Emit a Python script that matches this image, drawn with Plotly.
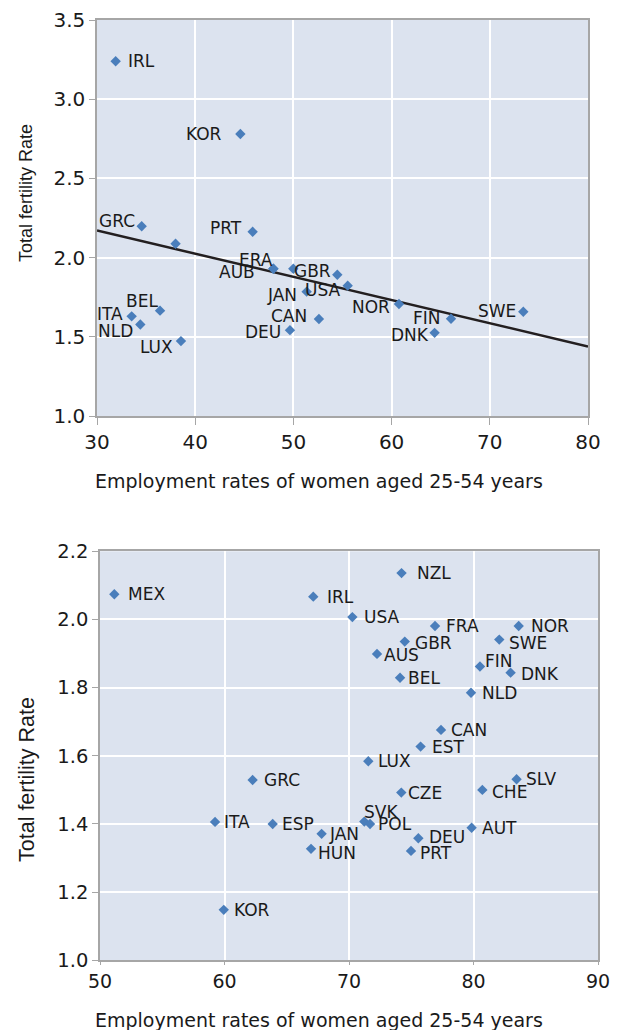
import plotly.graph_objects as go

# ---------------- data: top chart ----------------
top_countries = ["IRL", "KOR", "GRC", "", "PRT", "ERA", "AUB", "", "GBR", "USA", "JAN",
                 "CAN", "DEU", "NOR", "FIN", "DNK", "SWE", "BEL", "ITA", "NLD", "LUX"]
top_employment = [31.9, 44.6, 34.55, 38.0, 45.85, 47.96, 47.96, 49.99, 54.47, 55.53, 51.35,
                  52.6, 49.65, 60.75, 66.05, 64.38, 73.41, 36.42, 33.53, 34.41, 38.55]
top_fertility = [3.24, 2.78, 2.198, 2.087, 2.163, 1.93, 1.93, 1.93, 1.892, 1.823, 1.785,
                 1.612, 1.542, 1.707, 1.614, 1.525, 1.658, 1.665, 1.629, 1.578, 1.473]
trend_x = [30, 80]
trend_y = [2.171, 1.439]

# ---------------- data: bottom chart ----------------
bot_countries = ["MEX", "IRL", "NZL", "USA", "FRA", "NOR", "GBR", "SWE", "AUS", "FIN",
                 "DNK", "BEL", "NLD", "CAN", "EST", "LUX", "SLV", "CHE", "CZE", "SVK",
                 "POL", "AUT", "JAN", "DEU", "HUN", "PRT", "GRC", "ITA", "ESP", "KOR"]
bot_employment = [51.15, 67.13, 74.22, 70.27, 76.91, 83.63, 74.48, 82.07, 72.25, 80.52,
                  82.98, 74.1, 79.8, 77.39, 75.75, 71.55, 83.46, 80.71, 74.2, 71.23,
                  71.69, 79.85, 67.8, 75.57, 66.95, 74.98, 62.26, 59.24, 63.87, 59.94]
bot_fertility = [2.074, 2.067, 2.136, 2.007, 1.981, 1.981, 1.935, 1.941, 1.899, 1.862,
                 1.844, 1.829, 1.785, 1.676, 1.627, 1.584, 1.531, 1.50, 1.492, 1.407,
                 1.40, 1.389, 1.371, 1.358, 1.327, 1.321, 1.529, 1.406, 1.40, 1.148]

x_title = "Employment rates of women aged 25-54 years"
y_title = "Total fertility Rate"

# ---------------- label placement (styling) ----------------
top_anchor = ["left", "right", "right", "right", "right", "right", "right", "right", "right",
              "right", "right", "right", "right", "right", "right", "right", "right", "right",
              "right", "right", "right"]
top_dx = [11, -17, -6, 0, -10, 1, -17, 0, -5, -6, -9, -11, -8, -8, -9, -5, -6, -1, -8, -6, -7]
top_dy = [0, 0, 5, 0, 4, 9, -3, 0, 4, -4, -3, 3, -2, -3, 1, -2, 1, 10, 2, -7, -6]

bot_dx = [13, 13, 14, 11, 10, 11, 9, 9, 6, 4, 9, 7, 10, 9, 10, 9, 8, 9, 6, -1,
          7, 9, 6, 10, 6, 8, 10, 8, 8, 9]
bot_dy = [0, 0, 0, 0, 0, 0, -1, -3, -1, 6, -1, 0, 0, 0, 0, 0, 0, -2, 0, 10,
          0, 0, 0, 1, -4, -2, 0, 0, 0, 0]

MARKER_COLOR = "#4a7ebb"
PLOT_BG = "#dce3ef"
AXIS_LINE = "#a6a6a6"
TEXT_COLOR = "#1a1a1a"
LABEL_FONT = dict(family="DejaVu Sans", size=17, color=TEXT_COLOR)

fig = go.Figure()

fig.add_trace(go.Scatter(
    x=trend_x, y=trend_y, mode="lines", line=dict(color="#231f20", width=2.5),
    xaxis="x", yaxis="y", showlegend=False, hoverinfo="skip"))
fig.add_trace(go.Scatter(
    x=top_employment, y=top_fertility, mode="markers",
    marker=dict(symbol="diamond", size=8, color=MARKER_COLOR),
    xaxis="x", yaxis="y", showlegend=False, text=top_countries))
fig.add_trace(go.Scatter(
    x=bot_employment, y=bot_fertility, mode="markers",
    marker=dict(symbol="diamond", size=8, color=MARKER_COLOR),
    xaxis="x2", yaxis="y2", showlegend=False, text=bot_countries))

annotations = []
for name, xv, yv, anc, dx, dy in zip(top_countries, top_employment, top_fertility,
                                     top_anchor, top_dx, top_dy):
    if not name:
        continue
    annotations.append(dict(x=xv, y=yv, xref="x", yref="y", text=name, showarrow=False,
                            xanchor=anc, yanchor="middle", xshift=dx, yshift=dy,
                            font=LABEL_FONT, borderpad=0))
for name, xv, yv, dx, dy in zip(bot_countries, bot_employment, bot_fertility, bot_dx, bot_dy):
    annotations.append(dict(x=xv, y=yv, xref="x2", yref="y2", text=name, showarrow=False,
                            xanchor="left", yanchor="middle", xshift=dx, yshift=dy,
                            font=LABEL_FONT, borderpad=0))

# axis titles
annotations += [
    dict(x=319 / 619, y=(1030 - 481) / 1030, xref="paper", yref="paper", text=x_title,
         showarrow=False, xanchor="center", yanchor="middle",
         font=dict(family="DejaVu Sans", size=19, color=TEXT_COLOR)),
    dict(x=319 / 619, y=(1030 - 1020) / 1030, xref="paper", yref="paper", text=x_title,
         showarrow=False, xanchor="center", yanchor="middle",
         font=dict(family="DejaVu Sans", size=19, color=TEXT_COLOR)),
    dict(x=26 / 619, y=(1030 - 193) / 1030, xref="paper", yref="paper", text=y_title,
         showarrow=False, xanchor="center", yanchor="middle", textangle=-90,
         font=dict(family="Liberation Sans", size=18, color=TEXT_COLOR)),
    dict(x=27 / 619, y=(1030 - 780) / 1030, xref="paper", yref="paper", text=y_title,
         showarrow=False, xanchor="center", yanchor="middle", textangle=-90,
         font=dict(family="Liberation Sans", size=21.5, color=TEXT_COLOR)),
]

def axis_style(rng, dtick, domain, anchor, fontsize, fmt, ticklen):
    return dict(range=rng, dtick=dtick, domain=domain, anchor=anchor,
                showgrid=True, gridcolor="white", gridwidth=1.5, zeroline=False,
                showline=True, linecolor=AXIS_LINE, linewidth=1.5, mirror=True,
                ticks="outside", ticklen=ticklen, tickcolor=AXIS_LINE, tickwidth=1,
                tickformat=fmt, automargin=False,
                tickfont=dict(family="DejaVu Sans", size=fontsize, color=TEXT_COLOR))

fig.update_layout(
    width=619, height=1030,
    margin=dict(l=0, r=0, t=0, b=0),
    paper_bgcolor="white", plot_bgcolor=PLOT_BG,
    showlegend=False,
    xaxis=axis_style([30, 80], 10, [97 / 619, 588 / 619], "y", 20, "d", 7),
    yaxis=axis_style([1.0, 3.5], 0.5, [(1030 - 416) / 1030, (1030 - 20) / 1030], "x", 20, ".1f", 6),
    xaxis2=axis_style([50, 90], 10, [100 / 619, 598 / 619], "y2", 19, "d", 3),
    yaxis2=axis_style([1.0, 2.2], 0.2, [(1030 - 960.3) / 1030, (1030 - 551.3) / 1030], "x2", 19.5, ".1f", 6),
    annotations=annotations,
)

fig.write_html("out.html", config={"displayModeBar": False},
               post_script="document.body.style.margin='0px';document.body.style.overflow='hidden';")
